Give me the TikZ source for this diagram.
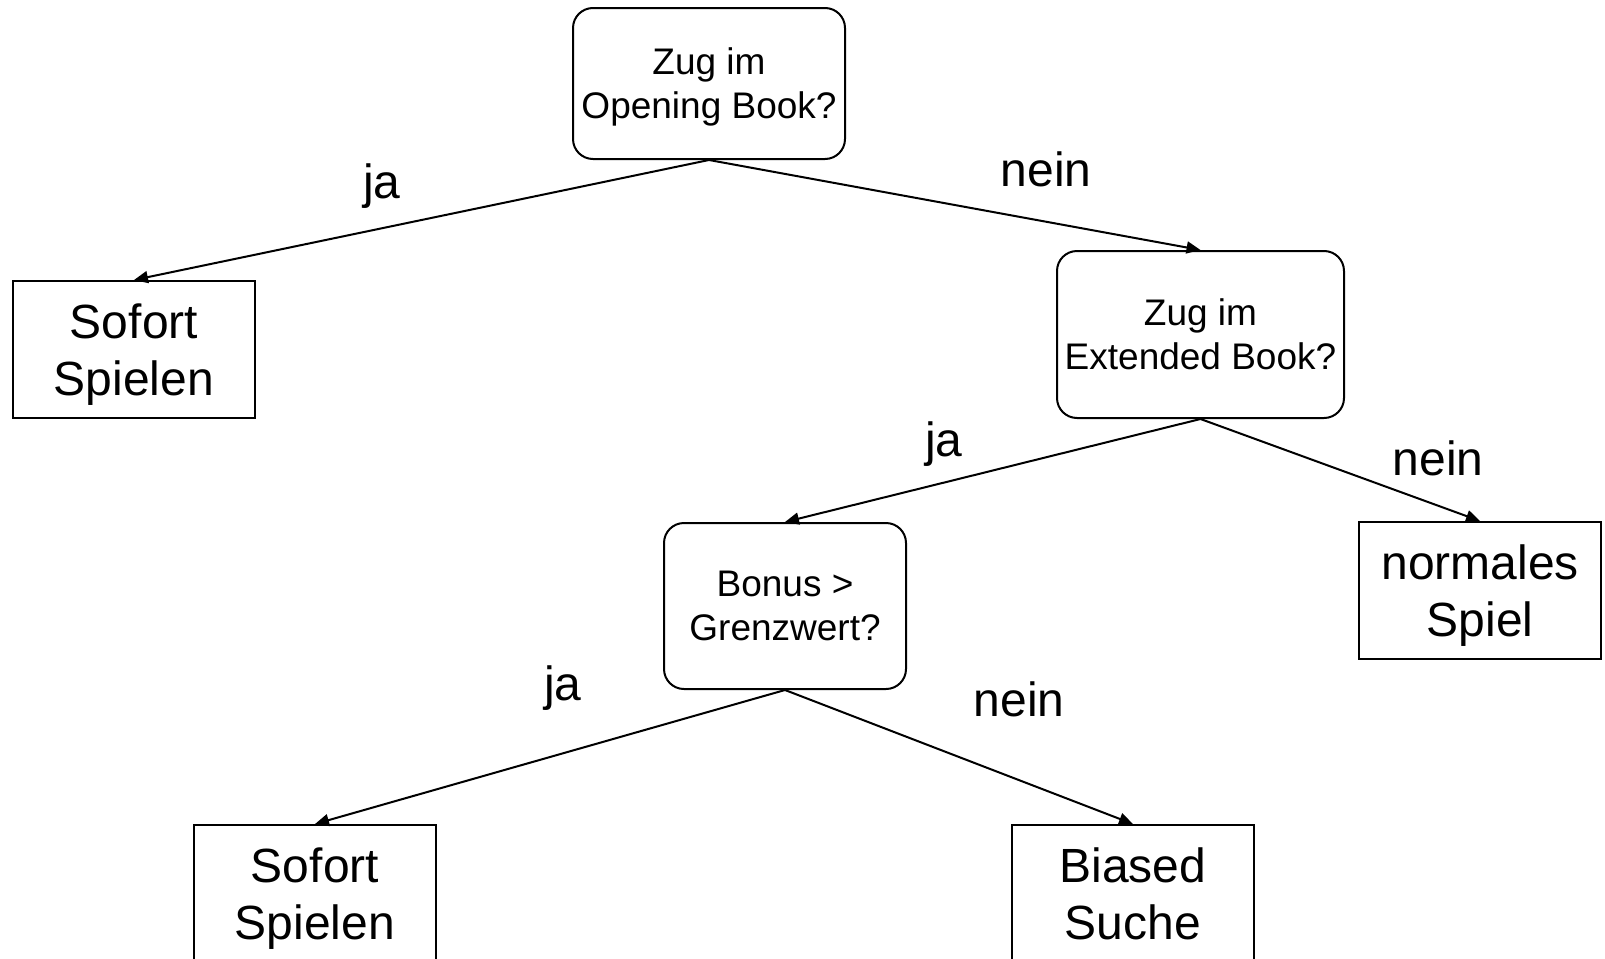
\documentclass[tikz,border=0pt]{standalone}
\usepackage{fontspec}
\setmainfont{Liberation Sans}
\usetikzlibrary{arrows.meta}

\begin{document}
\begin{tikzpicture}[
    x=0.5pt, y=-0.5pt,
    % Styles
    decision/.style={
        rectangle,
        rounded corners=10pt,
        draw=black,
        line width=1pt,
        inner sep=2pt,
        text depth=0pt,
        align=center,
        font=\fontsize{18.5}{22}\selectfont
    },
    result/.style={
        rectangle,
        draw=black,
        line width=1pt,
        minimum width=121pt,
        minimum height=68.5pt,
        text depth=0pt,
        align=center,
        font=\fontsize{24}{28.5}\selectfont
    },
    answer/.style={
        font=\fontsize{24}{28.5}\selectfont,
        inner sep=0pt
    },
    link/.style={
        -{Triangle[length=7pt,width=6pt]},
        line width=1pt
    }
]

\useasboundingbox (0,0) rectangle (1605,958);

% Decisions
\node[decision, minimum width=136pt, minimum height=75.5pt] (opening) at (709, 83.5) {Zug im~\\Opening Book?};
\node[decision, minimum width=143.5pt, minimum height=83.5pt] (extended) at (1200.5, 334.5) {Zug im~\\Extended Book?};
\node[decision, minimum width=121pt, minimum height=83pt] (bonus) at (785, 606) {Bonus >\\Grenzwert?};

% Results
\node[result] (sofortA) at (134, 349.5) {Sofort\\Spielen};
\node[result] (normal) at (1480, 590.5) {normales\\Spiel};
\node[result] (sofortB) at (315, 893.5) {Sofort\\Spielen};
\node[result] (biased) at (1133, 893.5) {Biased\\Suche};

% Connections
\draw[link] (opening.south) -- (sofortA.north);
\draw[link] (opening.south) -- (extended.north);
\draw[link] (extended.south) -- (bonus.north);
\draw[link] (extended.south) -- (normal.north);
\draw[link] (bonus.south) -- (sofortB.north);
\draw[link] (bonus.south) -- (biased.north);

% Answers
\node[answer] (jaA) at (382, 186) {ja};
\node[answer] (neinA) at (1046, 169) {nein};
\node[answer] (jaB) at (944, 444) {ja};
\node[answer] (neinB) at (1438, 458) {nein};
\node[answer] (jaC) at (563, 688) {ja};
\node[answer] (neinC) at (1019, 699) {nein};

\end{tikzpicture}
\end{document}
